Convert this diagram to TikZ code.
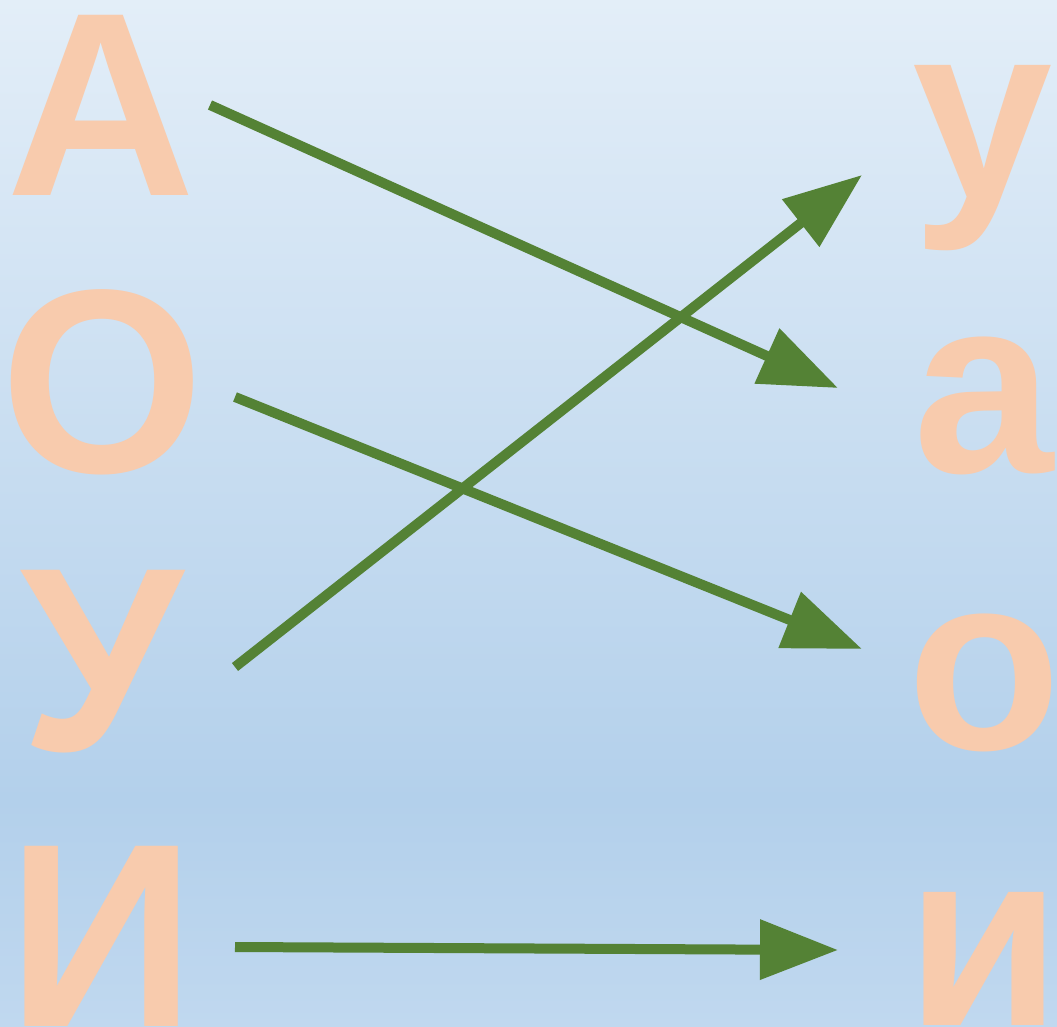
\documentclass[tikz,border=0pt]{standalone}
\usepackage{fontspec}
\setmainfont{Liberation Sans}
\usetikzlibrary{arrows.meta}
\definecolor{bgtop}{HTML}{E3EEF8}
\definecolor{bgmid}{HTML}{B3D0EB}
\definecolor{bgbot}{HTML}{C0D8EF}
\definecolor{letter}{HTML}{F8CBAD}
\definecolor{arrowgreen}{HTML}{548235}
\tikzset{
  bigletter/.style={inner sep=0pt, anchor=base, text=letter, font=\fontsize{262}{262}\bfseries\selectfont},
  smallletter/.style={inner sep=0pt, anchor=base, text=letter, font=\fontsize{252}{252}\bfseries\selectfont},
  connector/.style={draw=arrowgreen, line width=10pt, -{Triangle[length=78pt,width=58pt]}}
}
\begin{document}
\begin{tikzpicture}[x=1pt,y=-1pt]
\useasboundingbox (0,0) rectangle (1057,1027);
\shade[top color=bgtop, bottom color=bgmid] (0,0) rectangle (1057,800);
\shade[top color=bgmid, bottom color=bgbot] (0,799) rectangle (1057,1027);
% left letters
\node[bigletter] (L1) at (101,196) {А};
\node[bigletter] (L2) at (102,472) {О};
\node[bigletter] (L3) at (102,750) {У};
\node[bigletter] (L4) at (102,1026) {И};
% right letters
\node[smallletter] (R1) at (983,199) {у};
\node[smallletter] (R2) at (984,472) {а};
\node[smallletter] (R3) at (984,749) {о};
\node[smallletter] (R4) at (984,1025) {и};
% arrow endpoints
\coordinate (s1) at (210,105);
\coordinate (e1) at (838,388);
\coordinate (s2) at (235,397);
\coordinate (e2) at (862,649);
\coordinate (s3) at (235,667);
\coordinate (e3) at (862,175);
\coordinate (s4) at (235,947);
\coordinate (e4) at (838,950);
\draw[connector] (s1) -- (e1);
\draw[connector] (s2) -- (e2);
\draw[connector] (s3) -- (e3);
\draw[connector] (s4) -- (e4);
\end{tikzpicture}
\end{document}
